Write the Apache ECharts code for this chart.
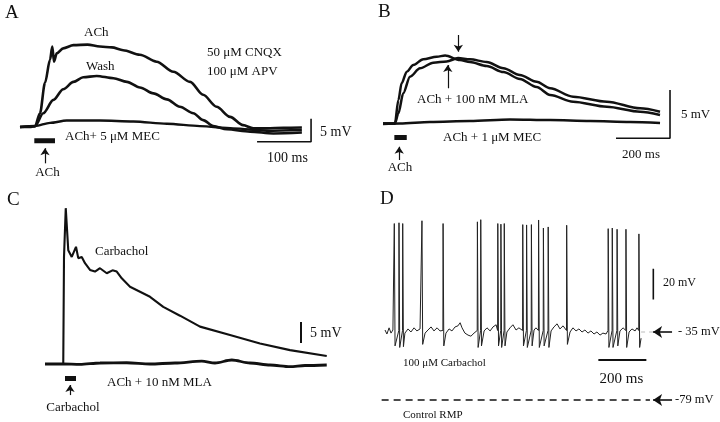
<!DOCTYPE html>
<html><head><meta charset="utf-8">
<script src="https://cdn.jsdelivr.net/npm/echarts@6/dist/echarts.min.js"></script>
<style>html,body{margin:0;padding:0;background:#fff}#c{width:720px;height:422px}</style>
</head><body><div id="c"></div>
<script>
// ---------- Panel A : time (ms) , depolarisation (mV from rest) ----------
const A_ACh = [[0,0],[18.5,0],[27.8,0.2],[37,3.0],[46.3,9.6],[55.6,14.6],[59.8,17.5],[63,14.2],[68,16.0],[80,17.1],[99,17.8],[125,17.9],[148,17.5],[170,17.3],[191,16.7],[222,15.7],[253,14.2],[284,12.0],[315,9.8],[339,7.0],[364,4.4],[389,2.2],[413,0.4],[432,-0.3],[457,-0.3],[488,-0.15],[522,-0.1]];
const A_Wash = [[0,0],[27.8,0.2],[43,3.0],[62,5.9],[80,8.2],[99,9.8],[117,10.8],[142,11.1],[173,10.6],[198,9.8],[222,8.6],[247,7.3],[272,6.0],[296,4.4],[321,3.0],[339,1.5],[358,0.2],[383,-0.5],[426,-1.0],[469,-1.4],[522,-1.2]];
const A_MEC = [[0,0],[27.8,0.2],[55.6,0.9],[86.5,1.4],[148,1.4],[210,1.2],[272,0.7],[333,0.2],[395,-0.3],[457,-0.8],[522,-0.65]];

// ---------- Panel B ----------
const B_ACh = [[0,0],[44,0],[57,2.45],[69,4.19],[88,5.4],[112,6.09],[149,6.69],[199,6.96],[230,7.08],[285,6.61],[322,6.41],[384,5.99],[446,5.36],[507,4.64],[569,3.8],[619,2.97],[704,2.27],[829,1.75],[952,1.23],[1026,0.89]];
const B_MLA = [[0,0],[44,0],[57,1.06],[75,3.15],[100,4.88],[137,5.75],[186,6.33],[236,6.46],[278,6.82],[322,6.69],[384,6.41],[446,5.75],[507,5.05],[569,4.35],[619,3.67],[704,2.79],[829,2.27],[952,1.58],[1026,1.23]];
const B_MEC = [[0,-0.05],[63,0],[174,0.16],[322,0.26],[470,0.42],[619,0.36],[767,0.26],[915,0.16],[1026,0.05]];

// ---------- Panel C ----------
const C_Carb = [[0,0],[73,0],[76,25.5],[83,37.1],[93,27.1],[107,25.5],[124,27.9],[133,25.2],[147,25.5],[160,24.0],[180,22.4],[200,22.0],[220,22.8],[247,21.6],[270,22.3],[287,22.0],[307,20.4],[340,18.4],[380,17.2],[420,16.0],[473,13.6],[540,11.5],[620,8.9],[740,6.9],[860,4.9],[980,3.3],[1127,1.9]];
const C_MLA = [[0,0],[72,0],[140,-0.1],[220,0.24],[327,0.3],[420,0],[520,0.24],[627,0.7],[680,0.24],[747,0.95],[820,0.24],[900,-0.24],[980,-0.64],[1040,-0.36],[1127,-0.24]];

// ---------- Panel D : membrane potential (mV) ----------
const D_base = [[0,-33.7],[8,-36.3],[17,-32.3],[25,-35.7],[33,-33.7],[83,-35.7],[96,-33],[108,-35],[121,-32.3],[133,-34.3],[146,-33],[167,-35.7],[179,-33.7],[192,-31.7],[204,-34.3],[217,-32.3],[229,-34.3],[254,-35.7],[267,-33],[279,-34.3],[292,-31.7],[304,-31],[313,-29],[321,-32.3],[333,-35.7],[346,-37],[358,-37.7],[371,-35.7],[413,-34.3],[425,-32.3],[438,-34.3],[450,-31.7],[463,-30.3],[508,-35],[521,-32.3],[533,-30.3],[546,-33.7],[558,-32.3],[621,-33.7],[629,-32.3],[692,-34.3],[704,-31.7],[717,-29.7],[729,-33],[742,-31],[771,-35],[783,-32.3],[796,-34.3],[808,-33],[821,-35],[833,-33.7],[846,-35.7],[858,-34.3],[871,-36.3],[883,-35],[896,-37],[908,-35.7],[921,-36.3],[979,-34.3],[992,-32.3],[1017,-35],[1029,-33],[1042,-34.3],[1050,-32.3],[1067,-39]];
const D_spikeT = [38.8,58.3,73.8,154,242,385,399,470,483,497,574,590,610,640,660,680,757,930,947,967,1004,1058];
const D_spikePeak = [35.2,35.7,35.2,37,35.2,36.3,37.7,35.2,34.8,35.2,34.5,34.3,34.5,37.5,32.3,33,34.1,31.9,32.3,31.5,31.5,28.5];
const D_spikeTrough = [-44,-45,-44.5,-43,-44,-45,-44,-44,-45,-44,-44,-45,-44,-45,-44,-45,-43,-45,-45,-44,-45,-45];
const D_spikeOnset = -34;
const D_rest = -79, D_hold = -35;

// ---------- build ----------
const dTrace = D_base.slice();
D_spikeT.forEach((t,i)=>{ dTrace.push([t-0.8, D_spikeOnset],[t, D_spikePeak[i]],[t+3, D_spikeTrough[i]]); });
dTrace.sort((a,b)=>a[0]-b[0]);

const grids = [
  {left:9.2, top:25.8, width:324, height:138, x:[-20,580], y:[-8,22]},
  {left:377.6, top:27.5, width:302.4, height:144, x:[-20,1100], y:[-5,10]},
  {left:35, top:196, width:310, height:218.4, x:[-40,1200], y:[-12,40]},
  {left:375.4, top:208.4, width:307.2, height:208.6, x:[-40,1240], y:[-90,45]}
];
const INK = '#111';
function ln(gi, data, width, extra){
  return Object.assign({type:'line', xAxisIndex:gi, yAxisIndex:gi, data:data, symbol:'none', showSymbol:false,
    lineStyle:{color:INK, width:width}, silent:true, animation:false}, extra||{});
}
function arrows(list, w, size){
  return {symbol:['none','arrow'], symbolSize:size||7, silent:true, animation:false,
    lineStyle:{color:INK, width:w||1.2, type:'solid'}, label:{show:false},
    data:list.map(a=>[{coord:[a[0],a[1]]},{coord:[a[2],a[3]]}])};
}
const series = [
  ln(0, A_ACh, 2.6, {smooth:0.3, smoothMonotone:'x'}),
  ln(0, A_Wash, 2.6, {smooth:0.3, smoothMonotone:'x'}),
  ln(0, A_MEC, 2.4, {smooth:0.3, smoothMonotone:'x'}),
  ln(0, [[439,-3.2],[539,-3.2],[539,1.8]], 1.6, {markLine: arrows([[46.3,-7.9,46.3,-4.6]],1.2,7)}),
  ln(0, [[26.5,-3.0],[64.8,-3.0]], 5),

  ln(1, B_ACh, 2.5, {smooth:0.3, smoothMonotone:'x'}),
  ln(1, B_MLA, 2.5, {smooth:0.3, smoothMonotone:'x'}),
  ln(1, B_MEC, 2.5, {smooth:0.3, smoothMonotone:'x'}),
  ln(1, [[863,-1.54],[1063,-1.54],[1063,3.49]], 1.6, {markLine: arrows([[60,-3.8,60,-2.42],[279,9.22,279,7.48],[240,3.67,240,6.09]],1.2,7)}),
  ln(1, [[42,-1.46],[88,-1.46]], 5),

  ln(2, C_Carb, 2.1),
  ln(2, C_MLA, 2.8, {smooth:0.3, smoothMonotone:'x'}),
  ln(2, [[1024,5],[1024,10]], 2, {markLine: arrows([[100,-7.4,100,-5]],1.2,7)}),
  ln(2, [[80,-3.45],[124,-3.45]], 5),

  ln(3, dTrace, 1, {lineStyle:{color:'#222', width:1}}),
  ln(3, [[1118,-14],[1118,6]], 1.6),
  ln(3, [[889,-53.1],[1089,-53.1]], 2),
  ln(3, [[-14,D_rest],[1104,D_rest]], 1.6, {lineStyle:{color:INK,width:1.6,type:[7,5]},
      markLine: arrows([[1196,D_hold,1117,D_hold],[1196,D_rest,1117,D_rest]],1.6,9)}),
  ln(3, [[1067,D_hold],[1117,D_hold]], 1, {lineStyle:{color:'#bbb',width:1,type:[4,4]}})
];

const F = '"Liberation Serif", "DejaVu Serif", serif';
function T(text, x, y, size, align){
  return {type:'text', x:x, y:y, silent:true, style:{text:text, font:size+'px '+F, fill:INK,
    align:align||'left', textAlign:align||'left', verticalAlign:'middle', textVerticalAlign:'middle'}};
}
const texts = [
  T('A',5,13,19), T('ACh',84,33,13), T('Wash',86,67,13), T('50 μM CNQX',207,53,13), T('100 μM APV',207,72,13),
  T('ACh+ 5 μM MEC',65,137,13), T('5 mV',320,132,14), T('100 ms',287.5,158,14,'center'), T('ACh',47.5,173,13,'center'),
  T('B',378,12,19), T('ACh + 100 nM MLA',417,100,13), T('ACh + 1 μM MEC',443,138,13), T('5 mV',681,115,13),
  T('200 ms',641,155,13,'center'), T('ACh',400,168,13,'center'),
  T('C',7,200,19), T('Carbachol',95,252,13), T('5 mV',310,333,14), T('ACh + 10 nM MLA',107,383,13), T('Carbachol',73,408,13,'center'),
  T('D',380,199,19), T('20 mV',663,283,12), T('- 35 mV',678,332,12.5), T('-79 mV',675,400,12.5),
  T('200 ms',621.5,379,15,'center'), T('100 μM Carbachol',403,363,11), T('Control RMP',403,415,11)
];

const chart = echarts.init(document.getElementById('c'), null, {renderer:'canvas'});
chart.setOption({
  backgroundColor:'#fff', animation:false,
  grid: grids.map(g=>({left:g.left, top:g.top, width:g.width, height:g.height, containLabel:false})),
  xAxis: grids.map((g,i)=>({type:'value', gridIndex:i, min:g.x[0], max:g.x[1], show:false})),
  yAxis: grids.map((g,i)=>({type:'value', gridIndex:i, min:g.y[0], max:g.y[1], show:false})),
  series: series,
  graphic: {elements: texts}
});
</script></body></html>
